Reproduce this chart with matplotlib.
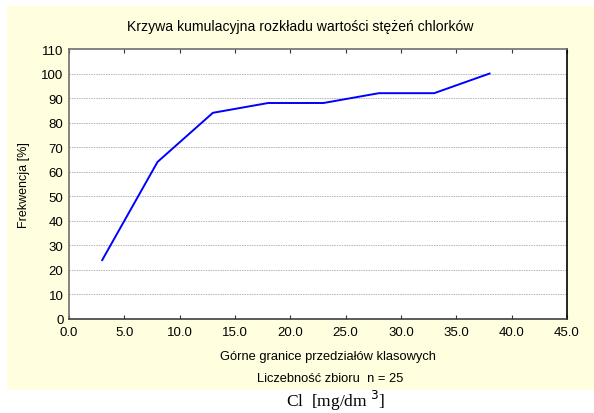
import matplotlib.pyplot as plt
from matplotlib.patches import Rectangle

# upper class limits and cumulative frequency
granice = [3, 8, 13, 18, 23, 28, 33, 38]
frekwencja = [24, 64, 84, 88, 88, 92, 92, 100]
xticks = [0, 5, 10, 15, 20, 25, 30, 35, 40, 45]
yticks = list(range(0, 111, 10))

plt.rcParams['font.family'] = ['Liberation Sans', 'DejaVu Sans']

fig = plt.figure(figsize=(5.94, 4.14), dpi=100)
fig.patch.set_facecolor('white')
# yellow panel behind the chart
fig.patches.append(Rectangle((7 / 594, 1 - 391 / 414), 587 / 594, 384 / 414,
                             transform=fig.transFigure, facecolor='#ffffe0',
                             edgecolor='none', zorder=-5))

ax = fig.add_axes([69 / 594, 1 - 320 / 414, 498 / 594, 270 / 414])
ax.set_facecolor('white')
ax.plot(granice, frekwencja, color='#0000ff', lw=1.4)

ax.set_xlim(0, 45)
ax.set_ylim(0, 110)
ax.set_xticks(xticks)
ax.set_xticklabels([f'{v:.1f}' for v in xticks])
ax.set_yticks(yticks)
for y in yticks[1:-1]:
    ax.axhline(y, color='#b4b4b4', lw=0.7, ls=(0, (1.5, 1)), zorder=0)

ax.tick_params(axis='x', direction='in', length=3, top=True, labelsize=9.5, pad=5, color='#333333')
ax.tick_params(axis='y', length=0, labelsize=9.5, pad=4)
ax.spines['left'].set_color('#707070')
ax.spines['top'].set_color('#707070')
ax.spines['bottom'].set_color('#404040')
ax.spines['right'].set_color('black')
for s in ax.spines.values():
    s.set_linewidth(1.2)

fig.text(0.505, 1 - 27 / 414, 'Krzywa kumulacyjna rozkładu wartości stężeń chlorków',
         ha='center', va='center', fontsize=10.1)
ax.set_ylabel('Frekwencja [%]', fontsize=9, labelpad=8)
fig.text(328 / 594, 1 - 357 / 414, 'Górne granice przedziałów klasowych',
         ha='center', va='center', fontsize=9.3)
fig.text(330 / 594, 1 - 379 / 414, 'Liczebność zbioru  n = 25',
         ha='center', va='center', fontsize=9.3)
fig.text(336 / 594, 1 - 401 / 414, r'Cl  [mg/dm $^3$]', ha='center', va='center',
         fontsize=12.5, family=['Liberation Serif', 'DejaVu Serif'])

fig.savefig('out.png', dpi=100)
